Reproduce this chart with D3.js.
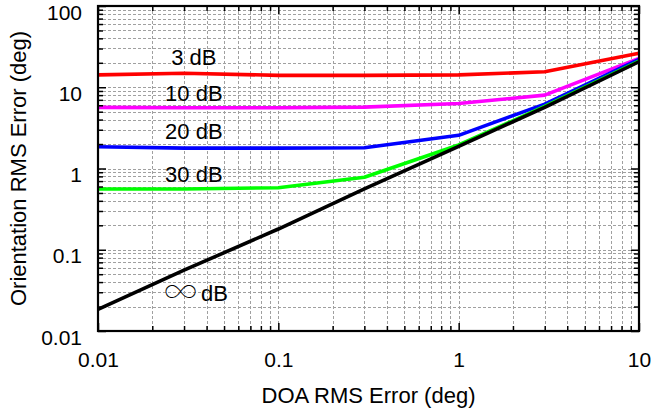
<!DOCTYPE html>
<html>
<head>
<meta charset="utf-8">
<script src="https://cdn.jsdelivr.net/npm/d3@7"></script>
<style>
  html, body { margin: 0; padding: 0; background: #fff; }
  svg { display: block; }
  text { font-family: "Liberation Sans", Arial, Helvetica, sans-serif; fill: #000; }
</style>
</head>
<body>
<svg id="chart" width="652" height="415"></svg>
<script>
// ---- data ----
const doaError = [0.01, 0.03, 0.1, 0.3, 1, 3, 10];
const snr3dB   = [14.2, 14.9, 14.0, 14.0, 14.2, 15.5, 26.2];
const snr10dB  = [5.65, 5.6, 5.6, 5.7, 6.3, 8.0, 22.7];
const snr20dB  = [1.85, 1.78, 1.78, 1.8, 2.56, 6.2, 22.0];
const snr30dB  = [0.56, 0.56, 0.58, 0.78, 1.95, 5.8, 21.0];
const snrInf   = [0.0185, 0.056, 0.18, 0.56, 1.87, 5.66, 20.6];
const seriesNames = ["3 dB", "10 dB", "20 dB", "30 dB", "\u221E dB"];
const seriesColors = ["#ff0000", "#ff00ff", "#0000ff", "#00ff00", "#000000"];
const labelX = [0.034, 0.034, 0.034, 0.034, 0.0229];
const labelY = [18.8, 6.78, 2.31, 0.683, 0.0234];
const xTickValues = [0.01, 0.1, 1, 10];
const yTickValues = [0.01, 0.1, 1, 10, 100];
const xTitle = "DOA RMS Error (deg)";
const yTitle = "Orientation RMS Error (deg)";

const seriesValues = [snr3dB, snr10dB, snr20dB, snr30dB, snrInf];

// ---- layout ----
const svg = d3.select("#chart");
const L = 98, R = 639, T = 6, B = 331;

const x = d3.scaleLog().domain([0.01, 10]).range([L, R]);
const y = d3.scaleLog().domain([0.01, 100]).range([B, T]);

const xAll = x.ticks();
const yAll = y.ticks();
const isMajor = v => Math.abs(Math.log10(v) - Math.round(Math.log10(v))) < 1e-9;

// grid
const grid = svg.append("g").attr("stroke", "#a0a0a0").attr("stroke-width", 1)
  .attr("stroke-dasharray", "3,2").attr("shape-rendering", "crispEdges");
grid.selectAll("line.gx").data(xAll.filter(v => v > 0.01 && v < 10)).join("line")
  .attr("x1", d => Math.round(x(d)) + 0.5).attr("x2", d => Math.round(x(d)) + 0.5)
  .attr("y1", T).attr("y2", B);
grid.selectAll("line.gy").data(yAll.filter(v => v > 0.01 && v < 100)).join("line")
  .attr("y1", d => Math.round(y(d)) + 0.5).attr("y2", d => Math.round(y(d)) + 0.5)
  .attr("x1", L).attr("x2", R);

// series lines
const line = d3.line().x((d, i) => x(doaError[i])).y(d => y(d));
seriesValues.forEach((vals, k) => {
  svg.append("path").datum(vals)
    .attr("fill", "none")
    .attr("stroke", seriesColors[k])
    .attr("stroke-width", 3.6)
    .attr("stroke-linejoin", "round")
    .attr("d", line);
});

// axes with inward ticks
function styleAxis(g) {
  g.select(".domain").remove();
  g.selectAll(".tick line").attr("stroke", "#000").attr("stroke-width", 1.5);
  g.selectAll("text").style("font-size", "21px").style("font-family", '"Liberation Sans", Arial, sans-serif');
}
const fmt = d3.format("~g");
const minorX = xAll.filter(v => !isMajor(v));
const minorY = yAll.filter(v => !isMajor(v));

// bottom
svg.append("g").attr("transform", `translate(0,${B})`)
  .call(d3.axisBottom(x).tickValues(xTickValues).tickFormat(fmt).tickSizeInner(-8).tickSizeOuter(0).tickPadding(21))
  .call(styleAxis);
svg.append("g").attr("transform", `translate(0,${B})`)
  .call(d3.axisBottom(x).tickValues(minorX).tickFormat("").tickSizeInner(-5).tickSizeOuter(0))
  .call(styleAxis);
// top
svg.append("g").attr("transform", `translate(0,${T})`)
  .call(d3.axisTop(x).tickValues(xTickValues).tickFormat("").tickSizeInner(-8).tickSizeOuter(0))
  .call(styleAxis);
svg.append("g").attr("transform", `translate(0,${T})`)
  .call(d3.axisTop(x).tickValues(minorX).tickFormat("").tickSizeInner(-5).tickSizeOuter(0))
  .call(styleAxis);
// left
const yAxisG = svg.append("g").attr("transform", `translate(${L},0)`)
  .call(d3.axisLeft(y).tickValues(yTickValues).tickFormat(fmt).tickSizeInner(-8).tickSizeOuter(0).tickPadding(16))
  .call(styleAxis);
yAxisG.selectAll("text").attr("dy", "13px");
svg.append("g").attr("transform", `translate(${L},0)`)
  .call(d3.axisLeft(y).tickValues(minorY).tickFormat("").tickSizeInner(-5).tickSizeOuter(0))
  .call(styleAxis);
// right
svg.append("g").attr("transform", `translate(${R},0)`)
  .call(d3.axisRight(y).tickValues(yTickValues).tickFormat("").tickSizeInner(-8).tickSizeOuter(0))
  .call(styleAxis);
svg.append("g").attr("transform", `translate(${R},0)`)
  .call(d3.axisRight(y).tickValues(minorY).tickFormat("").tickSizeInner(-5).tickSizeOuter(0))
  .call(styleAxis);

// frame
svg.append("rect").attr("x", L).attr("y", T).attr("width", R - L).attr("height", B - T)
  .attr("fill", "none").attr("stroke", "#000").attr("stroke-width", 2.2);

// series labels
seriesNames.forEach((name, k) => {
  if (k < 4) {
    svg.append("text").attr("x", x(labelX[k])).attr("y", y(labelY[k]))
      .attr("text-anchor", "middle").style("font-size", "22px").text(name);
  } else {
    const t = svg.append("text").attr("x", x(labelX[k])).attr("y", y(labelY[k]))
      .attr("text-anchor", "start").style("font-size", "22px");
    t.append("tspan").style("font-family", 'Inter, "DejaVu Sans", sans-serif').style("font-weight", 100)
      .style("font-size", "40px").attr("dy", "3px").text(name.charAt(0));
    t.append("tspan").attr("dy", "-3px").attr("dx", "-3px").text(name.slice(1));
  }
});

// titles
svg.append("text").attr("x", (L + R) / 2).attr("y", 403).attr("text-anchor", "middle")
  .style("font-size", "22px").text(xTitle);
svg.append("text").attr("transform", `translate(26,${(T + B) / 2}) rotate(-90)`)
  .attr("text-anchor", "middle").style("font-size", "22px").text(yTitle);
</script>
</body>
</html>
